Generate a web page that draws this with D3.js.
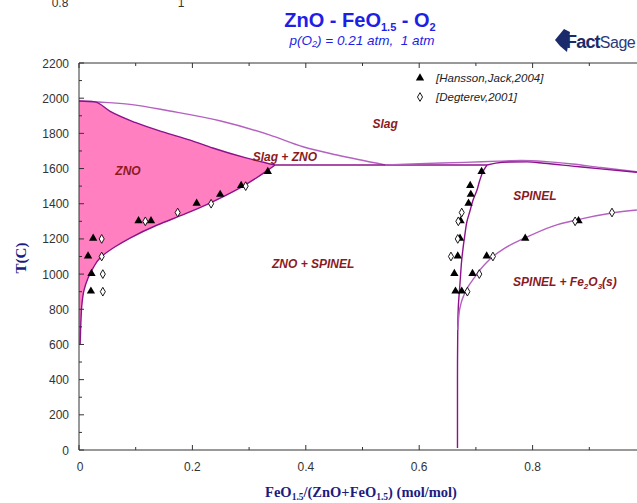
<!DOCTYPE html>
<html>
<head>
<meta charset="utf-8">
<script src="https://cdn.jsdelivr.net/npm/d3@7"></script>
<style>
  html, body { margin: 0; padding: 0; background: #fff; }
  svg { display: block; }
  text { white-space: pre; }
</style>
</head>
<body>
<svg id="chart" width="637" height="503"></svg>
<script>
// ---- Axis ticks ----
const xTicks = [0, 0.2, 0.4, 0.6, 0.8];
const xTickLabels = ["0", "0.2", "0.4", "0.6", "0.8"];
const yTicks = [0, 200, 400, 600, 800, 1000, 1200, 1400, 1600, 1800, 2000, 2200];

// ---- Phase boundaries: [FeO1.5 fraction, T (C)] ----
// ZnO liquidus (upper edge of the ZnO field)
const znoLiquidus = [[0, 1984], [0.028, 1979], [0.055, 1925], [0.099, 1862], [0.148, 1808],
  [0.196, 1762], [0.236, 1717], [0.293, 1662], [0.346, 1620]];
// ZnO solvus (lower edge of the ZnO field)
const znoSolvus = [[0.346, 1620], [0.332, 1588], [0.284, 1490], [0.231, 1404], [0.187, 1342],
  [0.138, 1279], [0.09, 1205], [0.063, 1154], [0.037, 1092], [0.025, 1035], [0.016, 978],
  [0.009, 910], [0.005, 824], [0.0035, 739], [0.002, 600]];
// Slag liquidus on the ZnO side
const slagLiquidus = [[0, 1984], [0.035, 1978], [0.09, 1965], [0.16, 1927], [0.25, 1870],
  [0.337, 1790], [0.395, 1724], [0.455, 1677], [0.54, 1621]];
// Three-phase line Slag + ZnO + Spinel
const threePhase = [[0.346, 1620], [0.7196, 1620]];
// Spinel liquidus
const spinelLiquidus = [[0.54, 1621], [0.6, 1628], [0.68, 1635], [0.74, 1642], [0.78, 1646],
  [0.82, 1641], [0.87, 1626], [0.92, 1606], [0.984, 1582]];
// Spinel solidus
const spinelSolidus = [[0.7196, 1620], [0.735, 1631], [0.76, 1637], [0.79, 1638], [0.82, 1630],
  [0.87, 1614], [0.92, 1598], [0.984, 1579]];
// Spinel solvus on the ZnO side
const spinelSolvusLeft = [[0.7196, 1620], [0.714, 1592], [0.707, 1535], [0.702, 1478],
  [0.695, 1421], [0.69, 1364], [0.684, 1296], [0.681, 1234], [0.675, 1080], [0.672, 949],
  [0.669, 813], [0.668, 682], [0.6675, 398], [0.6675, 12]];
// Spinel / Spinel + Fe2O3 boundary
const spinelFe2O3 = [[0.668, 682], [0.670, 767], [0.674, 836], [0.679, 881], [0.686, 927],
  [0.697, 978], [0.707, 1023], [0.725, 1086], [0.751, 1148], [0.783, 1200], [0.836, 1273],
  [0.878, 1308], [0.94, 1347], [0.984, 1364]];

// ---- Experimental points ----
const hanssonX = [0.021, 0.022, 0.016, 0.025, 0.105, 0.127, 0.2075, 0.249, 0.286, 0.333,
  0.710, 0.690, 0.691, 0.687, 0.673, 0.672, 0.668, 0.662, 0.664, 0.675, 0.694, 0.719, 0.787, 0.881];
const hanssonT = [900, 1000, 1100, 1200, 1300, 1300, 1400, 1450, 1500, 1580,
  1580, 1500, 1450, 1400, 1300, 1200, 1100, 1000, 900, 900, 1000, 1100, 1200, 1300];
const degterevX = [0.042, 0.042, 0.040, 0.040, 0.117, 0.174, 0.233, 0.294,
  0.675, 0.669, 0.668, 0.656, 0.685, 0.706, 0.730, 0.875, 0.940];
const degterevT = [900, 1000, 1100, 1200, 1300, 1350, 1400, 1500,
  1350, 1300, 1200, 1100, 900, 1000, 1100, 1300, 1350];

// ---- Region labels ----
const regionNames = ["Slag", "Slag + ZNO", "ZNO", "ZNO + SPINEL", "SPINEL"];
const regionX = [0.54, 0.363, 0.0864, 0.413, 0.804];
const regionT = [1830, 1643, 1565, 1035, 1421];

const svg = d3.select("#chart");
const x = d3.scaleLinear().domain([0, 1]).range([79, 646]);
const y = d3.scaleLinear().domain([0, 2200]).range([450, 63]);

const dark = "#8c128c";
const light = "#b461c0";
const axisCol = "#333";

svg.append("defs").append("clipPath").attr("id", "plotclip")
  .append("rect").attr("x", 79).attr("y", 63).attr("width", 637 - 79).attr("height", 387);

const plot = svg.append("g").attr("clip-path", "url(#plotclip)");

const lineX = d3.line().x(d => x(d[0])).y(d => y(d[1])).curve(d3.curveMonotoneX);
const lineY = d3.line().x(d => x(d[0])).y(d => y(d[1])).curve(d3.curveMonotoneY);

// ZnO single-phase field
const fieldPath = lineX(znoLiquidus) + lineY(znoSolvus).replace(/^M/, "L") +
  `L${x(0)},${y(600)}Z`;
plot.append("path").attr("d", fieldPath).attr("fill", "#ff7fc0").attr("stroke", "none");

const curves = [
  [slagLiquidus, light, lineX], [znoLiquidus, dark, lineX], [znoSolvus, dark, lineY],
  [threePhase, dark, lineX], [spinelLiquidus, light, lineX], [spinelSolidus, dark, lineX],
  [spinelSolvusLeft, dark, lineY], [spinelFe2O3, light, lineX]
];
curves.forEach(([pts, col, gen]) => {
  plot.append("path").attr("d", gen(pts)).attr("fill", "none")
    .attr("stroke", col).attr("stroke-width", 1.4);
});

// Markers
const tri = d3.symbol().type(d3.symbolTriangle).size(30);
const dia = d3.symbol().type(d3.symbolDiamond).size(22);
hanssonX.forEach((v, i) => {
  plot.append("path").attr("d", tri())
    .attr("transform", `translate(${x(v)},${y(hanssonT[i]) - 0.5})`)
    .attr("fill", "#000");
});
degterevX.forEach((v, i) => {
  plot.append("path").attr("d", dia())
    .attr("transform", `translate(${x(v)},${y(degterevT[i])})`)
    .attr("fill", "#fff").attr("stroke", "#000").attr("stroke-width", 0.9);
});

// Frame and ticks
const frame = svg.append("g").attr("stroke", axisCol).attr("stroke-width", 1).attr("fill", "none");
frame.append("path").attr("d", `M${x(0)},${y(2200)}H637M${x(0)},${y(2200)}V${y(0)}H637`);
d3.range(0, 10.5, 1).forEach(k => {
  const v = k / 10;
  const len = k % 2 === 0 ? 5 : 3;
  frame.append("line").attr("x1", x(v)).attr("x2", x(v)).attr("y1", y(0)).attr("y2", y(0) - len);
  frame.append("line").attr("x1", x(v)).attr("x2", x(v)).attr("y1", y(2200)).attr("y2", y(2200) + len);
});
d3.range(0, 2201, 100).forEach(v => {
  const len = v % 200 === 0 ? 5 : 3;
  frame.append("line").attr("x1", x(0)).attr("x2", x(0) + len).attr("y1", y(v)).attr("y2", y(v));
});

// Tick labels
const sans = "Liberation Sans, Arial, sans-serif";
svg.append("g").selectAll("text").data(yTicks).join("text")
  .attr("x", 69).attr("y", d => y(d) + 4.5).attr("text-anchor", "end")
  .attr("font-family", sans).attr("font-size", 12).attr("fill", "#333").text(d => d);
svg.append("g").selectAll("text").data(xTicks).join("text")
  .attr("x", d => x(d) + (d === 0 ? 1 : 0)).attr("y", 471).attr("text-anchor", "middle")
  .attr("font-family", sans).attr("font-size", 12).attr("fill", "#333")
  .text((d, i) => xTickLabels[i]);

// Leftover tick labels along the top edge
svg.append("text").attr("x", 60).attr("y", 7).attr("text-anchor", "middle")
  .attr("font-family", sans).attr("font-size", 12).attr("fill", "#333").text("0.8");
svg.append("text").attr("x", 181).attr("y", 7).attr("text-anchor", "middle")
  .attr("font-family", sans).attr("font-size", 12).attr("fill", "#333").text("1");

// Axis titles
const serif = "Liberation Serif, Times New Roman, serif";
const xt = svg.append("text").attr("x", 361).attr("y", 497).attr("text-anchor", "middle")
  .attr("font-family", serif).attr("font-weight", "bold").attr("font-size", 14.5).attr("fill", "#1c1c80");
xt.append("tspan").text("FeO");
xt.append("tspan").attr("font-size", 9.5).attr("dy", 3).text("1.5");
xt.append("tspan").attr("dy", -3).text("/(ZnO+FeO");
xt.append("tspan").attr("font-size", 9.5).attr("dy", 3).text("1.5");
xt.append("tspan").attr("dy", -3).text(") (mol/mol)");

svg.append("text").attr("transform", "translate(26,258) rotate(-90)").attr("text-anchor", "middle")
  .attr("font-family", serif).attr("font-weight", "bold").attr("font-size", 15).attr("fill", "#1c1c80")
  .text("T(C)");

// Title
const title = svg.append("text").attr("x", 360).attr("y", 27).attr("text-anchor", "middle")
  .attr("font-family", sans).attr("font-weight", "bold").attr("font-size", 20).attr("fill", "#1e1ee6");
title.append("tspan").text("ZnO - FeO");
title.append("tspan").attr("font-size", 11).attr("dy", 4).text("1.5");
title.append("tspan").attr("dy", -4).text(" - O");
title.append("tspan").attr("font-size", 11).attr("dy", 4).text("2");

const sub = svg.append("text").attr("x", 362).attr("y", 45).attr("text-anchor", "middle")
  .attr("font-family", sans).attr("font-style", "italic").attr("font-size", 13.5).attr("fill", "#1e1ee6");
sub.append("tspan").text("p(O");
sub.append("tspan").attr("font-size", 9).attr("dy", 2).text("2");
sub.append("tspan").attr("dy", -2).text(") = 0.21 atm,  1 atm");

// FactSage mark
const logo = svg.append("g").attr("transform", "translate(555,29)");
logo.append("path").attr("d", "M0,11 L9,0 L15,3 L12,23 L5,17 Z").attr("fill", "#1b2a6b");
const lt = logo.append("text").attr("x", 11).attr("y", 19).attr("font-family", sans).attr("fill", "#1b2a6b");
lt.append("tspan").attr("font-weight", "bold").attr("font-size", 18).attr("letter-spacing", -0.8).text("Fact");
lt.append("tspan").attr("font-size", 16).attr("fill", "#2b3a7b").attr("letter-spacing", -0.5).text("Sage");

// Legend
const lg = svg.append("g");
lg.append("path").attr("d", tri()).attr("transform", `translate(420,78)`).attr("fill", "#000");
lg.append("path").attr("d", dia()).attr("transform", `translate(420,97)`)
  .attr("fill", "#fff").attr("stroke", "#000").attr("stroke-width", 0.9);
lg.append("text").attr("x", 436).attr("y", 82).attr("font-family", sans).attr("font-style", "italic")
  .attr("font-size", 11.5).attr("fill", "#222").text("[Hansson,Jack,2004]");
lg.append("text").attr("x", 436).attr("y", 101).attr("font-family", sans).attr("font-style", "italic")
  .attr("font-size", 11.5).attr("fill", "#222").text("[Degterev,2001]");

// Region labels
const labCol = "#8b1a1f";
const labs = svg.append("g").attr("font-family", sans).attr("font-style", "italic")
  .attr("font-weight", "bold").attr("font-size", 12).attr("fill", labCol);
regionNames.forEach((n, i) => {
  labs.append("text").attr("x", x(regionX[i])).attr("y", y(regionT[i]))
    .attr("text-anchor", "middle").text(n);
});
const fe = labs.append("text").attr("x", x(0.857)).attr("y", y(932)).attr("text-anchor", "middle");
fe.append("tspan").text("SPINEL + Fe");
fe.append("tspan").attr("font-size", 8).attr("dy", 3).text("2");
fe.append("tspan").attr("dy", -3).text("O");
fe.append("tspan").attr("font-size", 8).attr("dy", 3).text("3");
fe.append("tspan").attr("dy", -3).text("(s)");
</script>
</body>
</html>
